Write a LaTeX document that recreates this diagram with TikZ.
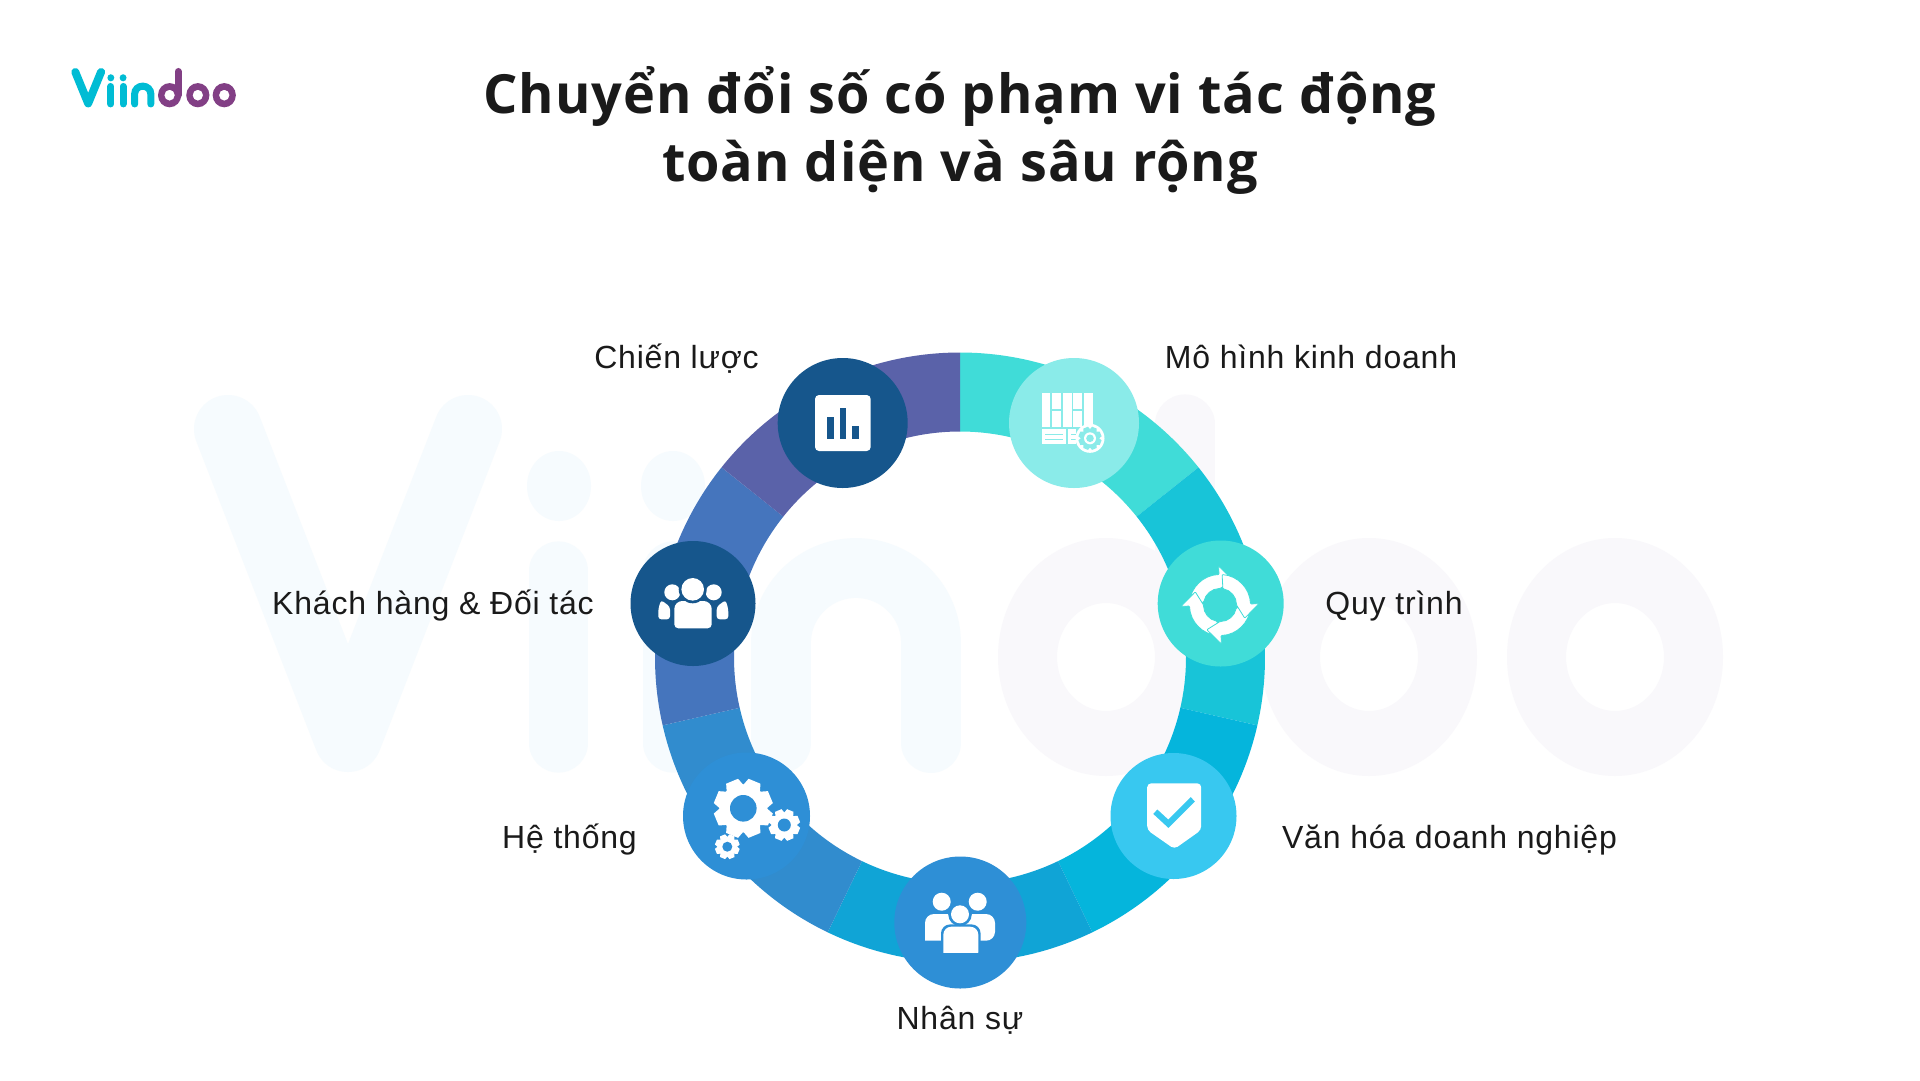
\documentclass[tikz,border=0pt]{standalone}
\usepackage{fontspec}
\setmainfont{Liberation Sans}[LetterSpace=2.5]
\newfontfamily\titlefont{Open Sans}[LetterSpace=1.8]
\definecolor{segteal}{HTML}{40DCD8}
\definecolor{segcyan}{HTML}{18C4D8}
\definecolor{segsky}{HTML}{05B5DC}
\definecolor{segblue}{HTML}{10A4D6}
\definecolor{segsteel}{HTML}{318CCE}
\definecolor{segindigo}{HTML}{4575BD}
\definecolor{segviolet}{HTML}{5A62A9}
\definecolor{badgemint}{HTML}{8AEBE9}
\definecolor{badgenavy}{HTML}{16568C}
\definecolor{badgeblue}{HTML}{2E8FD6}
\definecolor{badgesky}{HTML}{38C8F0}
\definecolor{inktext}{HTML}{1A1A1A}
\definecolor{markpalea}{HTML}{F6FBFE}
\definecolor{markpaleb}{HTML}{F9F8FB}
\definecolor{markcyan}{HTML}{00BCD4}
\definecolor{markpurple}{HTML}{823F85}
\newcommand{\viinmark}[6]{
	\begin{scope}[shift={#1},xscale=#2,yscale=#3]
		\draw[#4,line width=#6pt,line cap=round,line join=round] (228,429) -- (348,738) -- (468,429);
		\fill[#4] (559,486) ellipse[x radius=32,y radius=35];
		\fill[#4] (673,486) ellipse[x radius=32,y radius=35];
		\draw[#4,line width=.87*#6pt,line cap=round] (558.5,571) -- (558.5,743);
		\draw[#4,line width=.87*#6pt,line cap=round] (673,571) -- (673,743);
		\draw[#4,line width=.88*#6pt,line cap=round] (781,743) -- (781,643) arc[start angle=180,end angle=360,radius=75] -- (931,743);
		\draw[#5,line width=.87*#6pt,line cap=round] (1185,424) -- (1185,657);
		\foreach \oval in {1106,1369,1615}
			\fill[#5,even odd rule] (\oval,657) ellipse[x radius=108,y radius=119] (\oval,657) ellipse[x radius=49,y radius=54];
	\end{scope}
}
\newcommand{\gearicon}[6]{
	\begin{scope}[shift={#1}]
		\fill[#5] (0,0) circle[radius=#3];
		\foreach \turn in {0,45,...,315}
			\fill[#5,rotate=\turn+22.5] (-.22*#2,-#2) -- (.22*#2,-#2) -- (.32*#2,-.7*#2) -- (-.32*#2,-.7*#2) -- cycle;
		\fill[#6] (0,0) circle[radius=#4];
	\end{scope}
}
\begin{document}
\begin{tikzpicture}
	[x=1pt,y=-1pt,
	badge/.style={circle,inner sep=0pt},
	itemlabel/.style={anchor=base,text=inktext,inner sep=0pt,font=\fontsize{32}{38}\selectfont}]
	\useasboundingbox (0,0) rectangle (1920,1080);
	\fill[white] (0,0) rectangle (1920,1080);
	\viinmark{(0,0)}{1}{1}{markpalea}{markpaleb}{68}
	\viinmark{(50.8,28.3)}{.1074}{.1018}{markcyan}{markpurple}{8}
	\begin{scope}[shift={(960,657.5)}]
		\foreach \from/\to/\segcol in {-90/-38.57/segteal,-38.57/12.86/segcyan,12.86/64.29/segsky,64.29/115.71/segblue,115.71/167.14/segsteel,167.14/218.57/segindigo,218.57/270/segviolet}
			\fill[\segcol] (\from:305) arc[start angle=\from,end angle=\to,radius=305] -- (\to:226) arc[start angle=\to,end angle=\from,radius=226] -- cycle;
	\end{scope}
	\node[badge,fill=badgenavy,minimum size=130pt] (strategy) at (842.7,423) {};
	\node[badge,fill=badgemint,minimum size=130pt] (business) at (1074,423) {};
	\node[badge,fill=badgenavy,minimum size=125pt] (clients) at (693,603.5) {};
	\node[badge,fill=segteal,minimum size=126pt] (process) at (1220.7,603.5) {};
	\node[badge,fill=badgeblue,minimum size=127pt] (systems) at (746.5,816) {};
	\node[badge,fill=badgesky,minimum size=126pt] (culture) at (1173.5,816) {};
	\node[badge,fill=badgeblue,minimum size=132pt] (people) at (960.3,922.5) {};
	\fill[white,rounded corners=4pt] (815,395) rectangle (870.7,451);
	\fill[badgenavy] (827.3,417.3) rectangle (833.7,438.7);
	\fill[badgenavy] (840,408) rectangle (846,438.7);
	\fill[badgenavy] (852.3,426.3) rectangle (858.7,438.7);
	\foreach \colx/\coly/\colw/\colh in {1041.7/393.3/8.3/33.4,1051.7/393.3/9/15.5,1051.7/411/9/15.7,1062.7/393.3/9/33.4,1073.3/393.3/9/15.5,1073.3/411/9/15.7,1084/393.3/9.3/33.4}
		\fill[white] (\colx,\coly) rectangle ++(\colw,\colh);
	\fill[white] (1041.7,429.3) rectangle (1065.7,444.3);
	\fill[white] (1067.7,429.3) rectangle (1075.7,444.3);
	\foreach \stripe in {433.8,438.8}
		\fill[badgemint] (1044.5,\stripe) rectangle (1063,\stripe+1.6);
	\foreach \stripe in {433.8,438.8}
		\fill[badgemint] (1071,\stripe) rectangle (1075.7,\stripe+1.6);
	\fill[white] (1090,438.3) circle[radius=14.5];
	\gearicon{(1090,438.3)}{11.5}{9}{6}{badgemint}{white}
	\fill[badgemint] (1090,438.3) circle[radius=3.8];
	\begin{scope}[shift={(1220,605)}]
		\foreach \turn in {0,90,180,270}
			\fill[white,draw=segteal,line width=.8pt,rotate=\turn,rounded corners=.8pt] (-176:30.5) arc[start angle=-176,end angle=-92,radius=30.5] -- (-92:39) -- (-62:28) -- (-90:16.5) arc[start angle=-90,end angle=-170,radius=16.5] -- cycle;
	\end{scope}
	\fill[white,rounded corners=3pt] (670,619.3) -- (658.3,619.3) -- (658.3,609) -- (661,600) -- (670,606.7) -- cycle;
	\fill[white,rounded corners=3pt] (716.7,619.3) -- (728.3,619.3) -- (728.3,609) -- (725.6,600) -- (716.7,606.7) -- cycle;
	\fill[white] (672.3,592.3) circle[radius=8];
	\fill[white] (713.7,592.3) circle[radius=8];
	\fill[white,rounded corners=8pt] (674.3,601) -- (711.7,601) [rounded corners=4pt] -- (711.7,628.3) -- (674.3,628.3) [rounded corners=8pt] -- cycle;
	\fill[badgenavy] (692.7,589.3) circle[radius=14];
	\fill[white] (692.7,589.3) circle[radius=11.3];
	\gearicon{(784.3,825)}{15.7}{12.3}{6.5}{white}{badgeblue}
	\gearicon{(727.3,846.7)}{12.3}{9.6}{5}{white}{badgeblue}
	\gearicon{(743.3,808.3)}{29.3}{24}{13.3}{white}{badgeblue}
	\fill[white,rounded corners=4pt] (1147.2,783.3) -- (1201.2,783.3) -- (1201.2,830) -- (1174.4,849) -- (1147.2,830) -- cycle;
	\draw[badgesky,line width=6pt] (1155.3,811.7) -- (1168.3,823.7) -- (1192.8,799.3);
	\fill[white] (941.7,901.7) circle[radius=9];
	\fill[white] (977.7,901.7) circle[radius=9];
	\fill[white,rounded corners=9pt] (925,940.7) -- (925,914) -- (995,914) -- (995,940.7) [sharp corners] -- cycle;
	\fill[badgeblue,rounded corners=9pt] (941,952.7) -- (941,924.4) -- (980.6,924.4) -- (980.6,952.7) -- cycle;
	\fill[white,rounded corners=8pt] (943.3,960) -- (943.3,926.7) -- (978.3,926.7) -- (978.3,960) -- cycle;
	\fill[badgeblue] (940,952.7) rectangle (982,962);
	\fill[badgeblue] (960,914.3) circle[radius=11.8];
	\fill[white] (960,914.3) circle[radius=9];
	\node[anchor=center,align=center,text=inktext,font=\titlefont\bfseries\fontsize{54}{68}\selectfont] (title) at (960,130) {Chuyển đổi số có phạm vi tác động\\toàn diện và sâu rộng};
	\node[itemlabel] (strategylabel) at (676.5,368) {Chiến lược};
	\node[itemlabel] (businesslabel) at (1311,368) {Mô hình kinh doanh};
	\node[itemlabel] (clientslabel) at (433,614) {Khách hàng \& Đối tác};
	\node[itemlabel] (processlabel) at (1394,614) {Quy trình};
	\node[itemlabel] (systemslabel) at (569.5,848.6) {Hệ thống};
	\node[itemlabel] (culturelabel) at (1449.5,848.6) {Văn hóa doanh nghiệp};
	\node[itemlabel] (peoplelabel) at (960,1029) {Nhân sự};
\end{tikzpicture}
\end{document}
